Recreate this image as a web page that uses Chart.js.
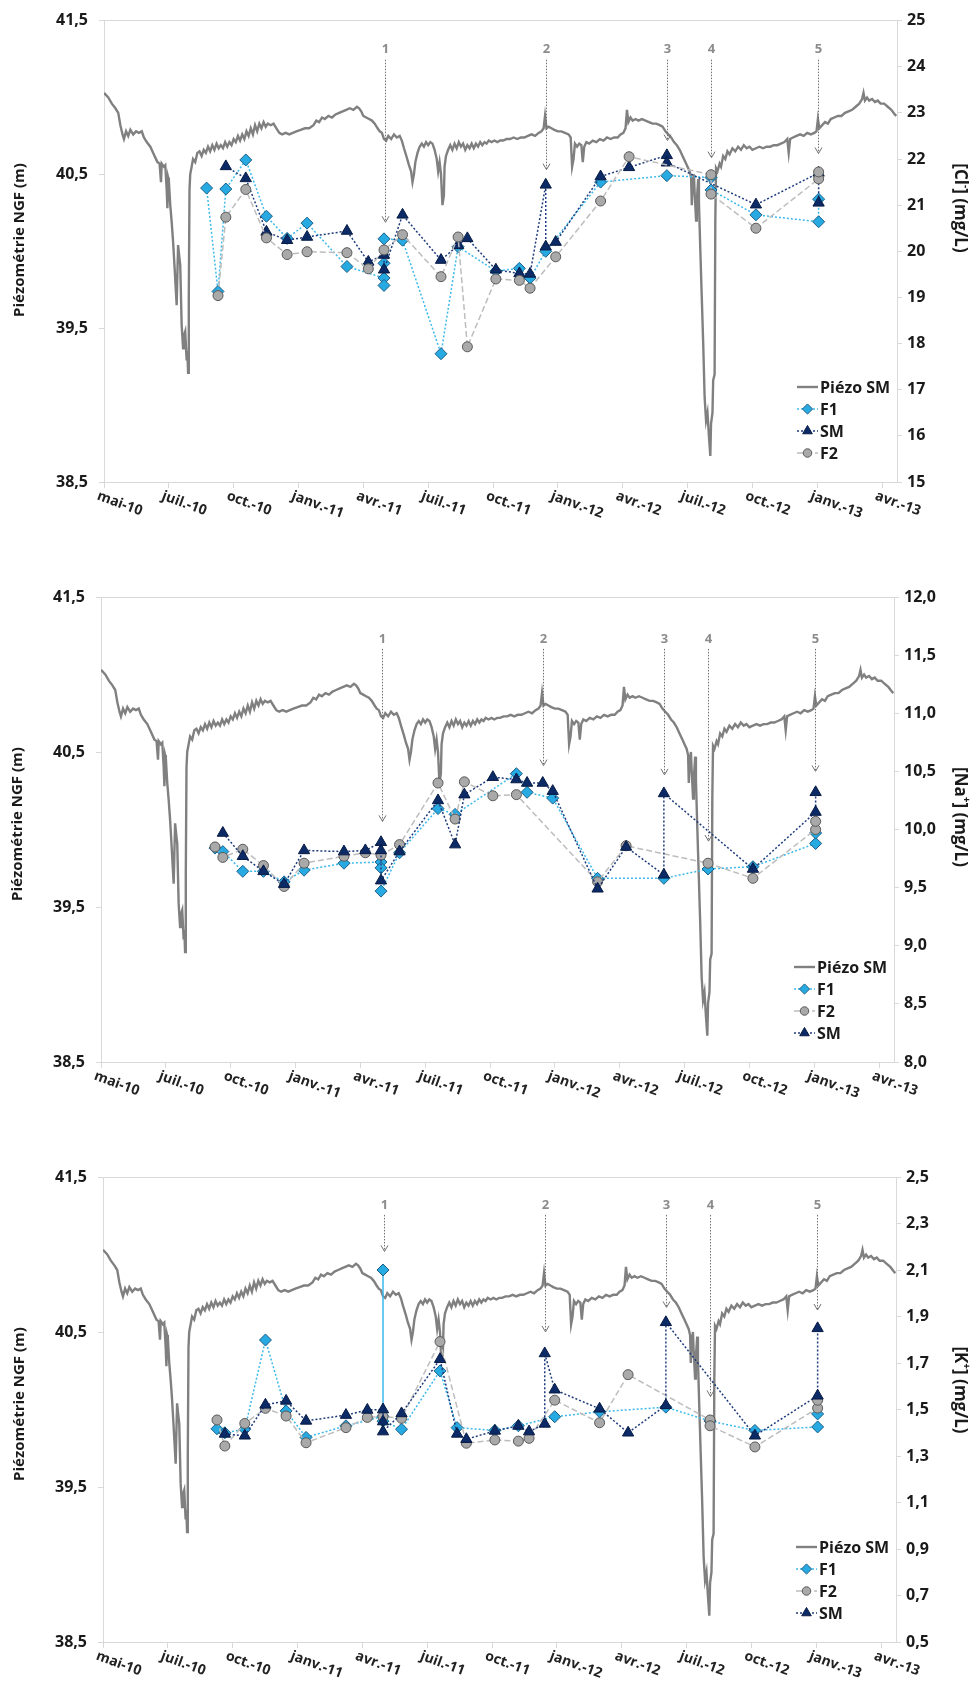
<!DOCTYPE html>
<html><head><meta charset="utf-8">
<script src="https://cdn.jsdelivr.net/npm/chart.js@4.4.0/dist/chart.umd.min.js"></script>
<style>
html,body{margin:0;padding:0;background:#fff;}
body{width:975px;height:1693px;position:relative;overflow:hidden;}
canvas{position:absolute;left:0;}
</style></head><body>
<canvas id="c1" width="975" height="560" style="top:0px"></canvas>
<canvas id="c2" width="975" height="560" style="top:560px"></canvas>
<canvas id="c3" width="975" height="573" style="top:1120px"></canvas>
<script>
// ---------- axes ----------
const xTickDays = [0,91,182,273,364,455,546,637,728,819,910,1001,1092];
const xTickLabels = ['mai-10','juil.-10','oct.-10','janv.-11','avr.-11','juil.-11','oct.-11','janv.-12','avr.-12','juil.-12','oct.-12','janv.-13','avr.-13'];
const piezoTicks = [38.5,39.5,40.5,41.5];
const piezoTickLabels = ['38,5','39,5','40,5','41,5'];
const clTicks = [15,16,17,18,19,20,21,22,23,24,25];
const clTickLabels = ['15','16','17','18','19','20','21','22','23','24','25'];
const naTicks = [8,8.5,9,9.5,10,10.5,11,11.5,12];
const naTickLabels = ['8,0','8,5','9,0','9,5','10,0','10,5','11,0','11,5','12,0'];
const kTicks = [0.5,0.7,0.9,1.1,1.3,1.5,1.7,1.9,2.1,2.3,2.5];
const kTickLabels = ['0,5','0,7','0,9','1,1','1,3','1,5','1,7','1,9','2,1','2,3','2,5'];

// ---------- piezometric level (days since 1 May 2010, m NGF) ----------
const piezoDays = [0,6,11,16,20,23,26,28,31,34,37,41,45,49,53,56,60,65,70,75,78,80,81,84,86,88,89,90,91,93,95,97,99,102,103,104,106,107,109,111,112,114,116,117,118,119,120,121,123,125,128,131,134,137,140,143,146,149,152,155,158,161,164,167,170,173,176,179,182,185,188,191,194,197,200,203,206,209,212,215,218,221,224,227,230,234,238,242,246,250,255,260,265,270,276,282,288,294,298,302,306,310,315,320,325,330,335,340,345,350,355,358,361,364,368,372,376,380,384,387,390,393,396,399,403,407,411,415,418,421,425,428,431,433,435,437,440,443,446,449,452,455,458,461,464,467,469,471,473,475,477,478,480,483,486,489,492,495,498,501,504,507,510,513,516,519,522,525,528,531,534,537,540,544,548,552,556,560,565,570,575,580,585,590,595,600,605,610,614,617,619,621,624,628,632,637,642,647,652,655,657,659,661,664,667,670,672,674,677,681,686,691,696,701,706,711,716,721,725,729,732,734,736,739,742,746,750,755,760,765,770,775,780,784,788,792,796,800,804,808,812,816,819,822,824,825,826,828,829,831,832,834,835,837,839,841,843,845,847,849,851,852,854,855,857,858,859,861,864,866,869,872,875,878,882,886,890,894,898,902,906,910,915,920,925,930,935,940,945,950,955,959,961,963,967,972,977,982,987,992,997,1000,1002,1004,1008,1012,1016,1020,1025,1030,1035,1040,1045,1050,1055,1060,1064,1066,1068,1071,1074,1078,1082,1086,1090,1095,1100,1105,1110,1112];
const piezoLevels = [41.03,41.00,40.96,40.93,40.90,40.82,40.76,40.73,40.78,40.75,40.79,40.76,40.78,40.77,40.78,40.74,40.71,40.68,40.63,40.58,40.57,40.45,40.57,40.55,40.56,40.40,40.28,40.48,40.46,40.30,40.19,40.06,39.90,39.65,39.85,40.04,39.95,39.91,39.52,39.37,39.45,39.48,39.29,39.35,39.21,39.70,40.40,40.50,40.55,40.60,40.58,40.64,40.65,40.62,40.66,40.64,40.68,40.65,40.69,40.66,40.70,40.67,40.69,40.67,40.71,40.68,40.71,40.69,40.73,40.71,40.75,40.72,40.76,40.73,40.78,40.75,40.80,40.76,40.82,40.78,40.83,40.80,40.84,40.81,40.83,40.82,40.83,40.80,40.77,40.76,40.77,40.76,40.77,40.78,40.79,40.80,40.80,40.82,40.85,40.84,40.87,40.86,40.88,40.87,40.89,40.90,40.91,40.92,40.93,40.92,40.94,40.93,40.91,40.88,40.87,40.86,40.85,40.83,40.80,40.78,40.77,40.73,40.72,40.75,40.73,40.76,40.74,40.75,40.72,40.67,40.61,40.56,40.52,40.45,40.50,40.58,40.64,40.68,40.70,40.68,40.71,40.69,40.71,40.70,40.66,40.60,40.52,40.58,40.50,40.30,40.36,40.55,40.62,40.66,40.69,40.66,40.70,40.67,40.71,40.68,40.70,40.66,40.69,40.67,40.70,40.67,40.70,40.68,40.71,40.69,40.71,40.70,40.72,40.71,40.72,40.71,40.72,40.72,40.73,40.73,40.74,40.73,40.74,40.74,40.75,40.76,40.75,40.77,40.78,40.80,40.88,40.80,40.81,40.80,40.79,40.78,40.78,40.77,40.76,40.74,40.55,40.60,40.70,40.68,40.70,40.69,40.58,40.68,40.71,40.70,40.72,40.71,40.73,40.72,40.74,40.73,40.74,40.74,40.76,40.77,40.80,40.92,40.84,40.87,40.85,40.86,40.85,40.86,40.85,40.84,40.83,40.83,40.82,40.81,40.78,40.76,40.74,40.71,40.69,40.66,40.62,40.58,40.55,40.52,40.48,40.30,40.42,40.50,40.38,40.20,40.33,40.47,40.32,40.00,39.70,39.40,39.05,38.90,38.95,38.80,38.67,38.88,38.95,39.16,39.20,40.20,40.54,40.52,40.57,40.55,40.62,40.60,40.65,40.63,40.67,40.65,40.68,40.66,40.69,40.67,40.68,40.66,40.67,40.68,40.67,40.68,40.68,40.69,40.69,40.70,40.71,40.73,40.64,40.73,40.74,40.75,40.76,40.75,40.77,40.76,40.77,40.78,40.86,40.80,40.82,40.84,40.83,40.86,40.87,40.88,40.88,40.90,40.91,40.92,40.94,40.96,40.99,41.03,40.98,41.00,40.98,40.99,40.97,40.98,40.96,40.96,40.94,40.92,40.89,40.88];

// ---------- samples [day, concentration mg/L] ----------
const clF1 = [[144,21.37],[160,19.13],[171,21.35],[199,21.98],[228,20.76],[257,20.28],[285,20.61],[341,19.67],[393,19.42],[393,19.26],[393,19.74],[393,20.27],[419,20.24],[473,17.78],[497,20.10],[550,19.57],[583,19.63],[598,19.42],[620,20.00],[697,21.50],[790,21.64],[852,21.60],[852,21.33],[915,20.79],[1003,20.64],[1003,21.13]];
const clSM = [[171,21.84],[199,21.58],[228,20.42],[257,20.24],[285,20.31],[341,20.44],[371,19.77],[393,19.92],[393,19.60],[419,20.79],[473,19.81],[497,20.13],[510,20.28],[550,19.60],[583,19.52],[598,19.51],[620,21.44],[620,20.10],[634,20.20],[697,21.62],[737,21.82],[790,22.08],[790,21.92],[915,21.01],[1003,21.70],[1003,21.05]];
const clF2 = [[160,19.04],[171,20.74],[199,21.34],[228,20.29],[257,19.93],[285,19.99],[341,19.97],[371,19.62],[393,20.03],[419,20.36],[473,19.45],[497,20.31],[510,17.93],[550,19.40],[583,19.37],[598,19.20],[634,19.88],[697,21.09],[737,22.05],[852,21.66],[852,21.24],[915,20.50],[1003,21.57],[1003,21.72]];

const naF1 = [[160,9.84],[171,9.81],[199,9.64],[228,9.64],[257,9.55],[285,9.65],[341,9.71],[393,9.72],[393,9.67],[393,9.47],[419,9.80],[473,10.18],[497,10.13],[583,10.48],[598,10.32],[634,10.27],[697,9.58],[790,9.58],[852,9.66],[915,9.68],[1003,9.88],[1003,9.97]];
const naF2 = [[160,9.85],[171,9.76],[199,9.83],[228,9.69],[257,9.51],[285,9.71],[341,9.77],[371,9.80],[393,9.78],[419,9.87],[473,10.40],[497,10.09],[510,10.41],[550,10.29],[583,10.30],[697,9.55],[737,9.86],[852,9.71],[915,9.58],[1003,10.00],[1003,10.07]];
const naSM = [[171,9.97],[199,9.77],[228,9.64],[257,9.53],[285,9.82],[341,9.81],[371,9.82],[393,9.89],[393,9.82],[393,9.56],[419,9.81],[473,10.25],[497,9.87],[510,10.30],[550,10.45],[583,10.43],[598,10.40],[620,10.40],[634,10.33],[697,9.49],[737,9.85],[790,9.61],[790,10.31],[915,9.66],[1003,10.15],[1003,10.32]];

const kF1 = [[160,1.417],[171,1.40],[199,1.415],[228,1.799],[257,1.494],[285,1.38],[341,1.43],[393,1.47],[393,2.10],[393,1.45],[419,1.415],[473,1.666],[497,1.422],[550,1.41],[583,1.43],[634,1.469],[697,1.49],[790,1.51],[852,1.45],[915,1.41],[1003,1.425],[1003,1.481]];
const kF2 = [[160,1.455],[171,1.343],[199,1.44],[228,1.505],[257,1.472],[285,1.357],[341,1.422],[371,1.466],[393,1.47],[419,1.462],[473,1.792],[510,1.355],[550,1.369],[583,1.364],[598,1.376],[634,1.54],[697,1.443],[737,1.65],[852,1.455],[852,1.43],[915,1.339],[1003,1.506],[1003,1.54]];
const kSM = [[171,1.395],[199,1.387],[228,1.52],[257,1.537],[285,1.451],[341,1.476],[371,1.498],[393,1.50],[393,1.448],[393,1.405],[419,1.483],[473,1.716],[497,1.395],[510,1.372],[550,1.408],[583,1.429],[598,1.405],[620,1.438],[620,1.741],[634,1.585],[697,1.503],[737,1.40],[790,1.518],[790,1.875],[915,1.387],[1003,1.559],[1003,1.849]];

// ---------- event arrows ----------
const arrowDays = [395,620,790,852,1002];
const arrowLabels = ['1','2','3','4','5'];
const clArrowTips = [20.63,21.77,22.40,22.03,22.12];
const naArrowTips = [10.07,10.55,10.47,9.90,10.50];
const kArrowTips = [2.18,1.834,1.939,1.556,1.928];

// ---------- rendering ----------
const FONT = "'Open Sans', 'Noto Sans', sans-serif";
Chart.defaults.font.family = FONT;

const piezoData = piezoDays.map((d,i)=>({x:d, y:piezoLevels[i]}));
const pts = arr => arr.map(([x,y])=>({x,y}));

const STY = {
  'F1': {pointStyle:'rectRot', pointRadius:6, pointBackgroundColor:'#27AAE1', pointBorderColor:'#1D5E86', borderColor:'#3CB9EA', borderDash:[2,2]},
  'SM': {pointStyle:'triangle', pointRadius:6.5, pointBackgroundColor:'#0B2A66', pointBorderColor:'#071B44', borderColor:'#1E3B7C', borderDash:[2,2]},
  'F2': {pointStyle:'circle', pointRadius:5, pointBackgroundColor:'#A9A9A9', pointBorderColor:'#595959', borderColor:'#BDBDBD', borderDash:[6,3]}
};

function drawMarker(ctx, style, x, y, r, fill, stroke) {
  ctx.beginPath();
  if (style === 'rectRot') { ctx.moveTo(x, y-r); ctx.lineTo(x+r, y); ctx.lineTo(x, y+r); ctx.lineTo(x-r, y); ctx.closePath(); }
  else if (style === 'triangle') {
    for (let k=0;k<3;k++){ const a=k*2*Math.PI/3; const px=x+Math.sin(a)*r, py=y-Math.cos(a)*r; if(k) ctx.lineTo(px,py); else ctx.moveTo(px,py); }
    ctx.closePath();
  } else { ctx.arc(x, y, r, 0, Math.PI*2); }
  ctx.fillStyle = fill; ctx.fill(); ctx.strokeStyle = stroke; ctx.lineWidth = 1; ctx.setLineDash([]); ctx.stroke();
}

const decorPlugin = {
  id: 'decor',
  afterDraw(chart, args, o) {
    const ctx = chart.ctx, ca = chart.chartArea, sx = chart.scales.x, sy2 = chart.scales.y2;
    ctx.save();
    // x tick labels, rotated clockwise
    ctx.font = 'bold 14px ' + FONT;
    ctx.fillStyle = '#222'; ctx.textAlign = 'left'; ctx.textBaseline = 'top';
    xTickDays.forEach((d,i)=>{
      const px = sx.getPixelForValue(d);
      ctx.save(); ctx.translate(px - 4, ca.bottom + 7); ctx.rotate(20*Math.PI/180);
      ctx.fillText(xTickLabels[i], 0, 0); ctx.restore();
    });
    // arrows
    const labY = sy2.getPixelForValue(o.arrowLabel);
    arrowDays.forEach((d,i)=>{
      const px = Math.round(sx.getPixelForValue(d)) + 0.5;
      const tip = sy2.getPixelForValue(o.arrowTips[i]);
      ctx.font = 'bold 13px ' + FONT; ctx.fillStyle = '#8c8c8c'; ctx.textAlign = 'center'; ctx.textBaseline = 'middle';
      ctx.fillText(arrowLabels[i], px, labY);
      ctx.strokeStyle = '#707070'; ctx.lineWidth = 1; ctx.setLineDash([1.5,1.5]);
      ctx.beginPath(); ctx.moveTo(px, labY + 10); ctx.lineTo(px, tip); ctx.stroke();
      ctx.setLineDash([]); ctx.beginPath(); ctx.moveTo(px-3.5, tip-6); ctx.lineTo(px, tip); ctx.lineTo(px+3.5, tip-6); ctx.stroke();
    });
    // left title
    ctx.fillStyle = '#1a1a1a'; ctx.font = 'bold 15px ' + FONT; ctx.textAlign = 'center'; ctx.textBaseline = 'middle';
    ctx.save(); ctx.translate(o.leftTitleX, o.leftTitleY); ctx.rotate(-Math.PI/2);
    ctx.fillText('Piézométrie NGF (m)', 0, 0); ctx.restore();
    // right title with superscript
    ctx.save(); ctx.translate(960, o.rightTitleY); ctx.rotate(Math.PI/2);
    const big = 'bold 17px ' + FONT, small = 'bold 10px ' + FONT;
    ctx.font = big; const w1 = ctx.measureText(o.rightTitle[0]).width, w3 = ctx.measureText(o.rightTitle[2]).width;
    ctx.font = small; const w2 = ctx.measureText(o.rightTitle[1]).width;
    let x0 = -(w1+w2+w3)/2;
    ctx.textAlign = 'left';
    ctx.font = big; ctx.fillText(o.rightTitle[0], x0, 0); x0 += w1;
    ctx.font = small; ctx.fillText(o.rightTitle[1], x0, -6); x0 += w2;
    ctx.font = big; ctx.fillText(o.rightTitle[2], x0, 0);
    ctx.restore();
    // legend
    const rows = [95,73,51,29];
    o.legendOrder.forEach((lab,i)=>{
      const ds = chart.data.datasets.find(d=>d.label===lab);
      const y = ca.bottom - rows[i];
      const x1 = ca.right - 100, x2 = ca.right - 79;
      ctx.strokeStyle = ds.borderColor; ctx.lineWidth = ds.borderWidth; ctx.setLineDash(ds.borderDash || []);
      ctx.beginPath(); ctx.moveTo(x1, y); ctx.lineTo(x2, y); ctx.stroke(); ctx.setLineDash([]);
      if (ds.pointRadius) drawMarker(ctx, ds.pointStyle, (x1+x2)/2, y, ds.pointRadius*0.85, ds.pointBackgroundColor, ds.pointBorderColor);
      ctx.fillStyle = '#1a1a1a'; ctx.font = 'bold 16px ' + FONT; ctx.textAlign = 'left'; ctx.textBaseline = 'middle';
      ctx.fillText(lab, ca.right - 77, y + 1);
    });
    ctx.restore();
  }
};

function makeChart(id, c) {
  const mk = (lab, arr, order) => Object.assign({label:lab, data:pts(arr), yAxisID:'y2', borderWidth:1.5, pointBorderWidth:1, order, tension:0, fill:false}, STY[lab]);
  const datasets = [
    {label:'Piézo SM', data:piezoData, yAxisID:'y', borderColor:'#808080', borderWidth:2.4, pointRadius:0, order:10, tension:0, fill:false}
  ].concat(c.series.map(s=>mk(s[0], s[1], s[2])));
  return new Chart(document.getElementById(id), {
    type: 'line',
    data: { datasets },
    options: {
      responsive:false, animation:false, events:[],
      layout:{padding:{top:c.padTop, left:0, right:0, bottom:0}},
      plugins:{legend:{display:false}, tooltip:{enabled:false},
        decor:{arrowTips:c.arrowTips, arrowLabel:c.arrowLabel, leftTitleX:c.leftTitleX, leftTitleY:c.leftTitleY, rightTitleY:c.rightTitleY, rightTitle:c.rightTitle, legendOrder:c.legendOrder}},
      scales:{
        x:{type:'linear', min:0, max:1113, bounds:'data',
          afterBuildTicks:s=>{ s.ticks = xTickDays.map(v=>({value:v})); },
          afterFit:s=>{ s.height = c.xH; },
          ticks:{display:false},
          grid:{drawOnChartArea:false, drawTicks:true, tickLength:6, color:'#d9d9d9'},
          border:{color:'#d9d9d9', width:1}},
        y:{type:'linear', position:'left', min:38.5, max:41.5,
          afterBuildTicks:s=>{ s.ticks = piezoTicks.map(v=>({value:v})); },
          afterFit:s=>{ s.width = c.leftW; },
          ticks:{callback:(v,i)=>piezoTickLabels[i], font:{weight:'bold', size:16}, color:'#1a1a1a', padding:11},
          grid:{color:(g)=> (g.tick && g.tick.value===41.5) ? '#d9d9d9' : 'rgba(0,0,0,0)', tickColor:'#d9d9d9', tickLength:5, drawTicks:true},
          border:{color:'#d9d9d9', width:1}},
        y2:{type:'linear', position:'right', min:c.rMin, max:c.rMax,
          afterBuildTicks:s=>{ s.ticks = c.rTicks.map(v=>({value:v})); },
          afterFit:s=>{ s.width = c.rightW; },
          ticks:{callback:(v,i)=>c.rTickLabels[i], font:{weight:'bold', size:16}, color:'#1a1a1a', padding:5},
          grid:{drawOnChartArea:false, drawTicks:true, tickLength:5, color:'#d9d9d9'},
          border:{color:'#d9d9d9', width:1}}
      }
    },
    plugins:[decorPlugin]
  });
}

makeChart('c1', {padTop:17, xH:78, leftW:104, rightW:78, rMin:15, rMax:25, rTicks:clTicks, rTickLabels:clTickLabels,
  series:[['F1',clF1,2],['SM',clSM,1],['F2',clF2,0]],
  arrowTips:clArrowTips, arrowLabel:24.37, leftTitleX:20, leftTitleY:240, rightTitleY:208, rightTitle:['[Cl','-','] (mg/L)'],
  legendOrder:['Piézo SM','F1','SM','F2']});
makeChart('c2', {padTop:37, xH:58, leftW:101, rightW:81, rMin:8, rMax:12, rTicks:naTicks, rTickLabels:naTickLabels,
  series:[['F1',naF1,2],['F2',naF2,1],['SM',naSM,0]],
  arrowTips:naArrowTips, arrowLabel:11.64, leftTitleX:18, leftTitleY:264, rightTitleY:257, rightTitle:['[Na','+','] (mg/L)'],
  legendOrder:['Piézo SM','F1','F2','SM']});
makeChart('c3', {padTop:57, xH:51, leftW:103, rightW:79, rMin:0.5, rMax:2.5, rTicks:kTicks, rTickLabels:kTickLabels,
  series:[['F1',kF1,2],['F2',kF2,1],['SM',kSM,0]],
  arrowTips:kArrowTips, arrowLabel:2.38, leftTitleX:20, leftTitleY:284, rightTitleY:270, rightTitle:['[K','+','] (mg/L)'],
  legendOrder:['Piézo SM','F1','F2','SM']});
</script>
</body></html>
